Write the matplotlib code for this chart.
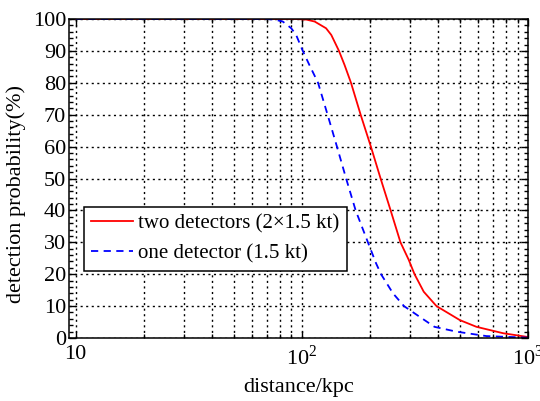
import matplotlib
matplotlib.use("Agg")
import matplotlib.pyplot as plt
from matplotlib.ticker import FixedLocator, FixedFormatter, MultipleLocator, NullFormatter
import numpy as np

plt.rcParams['font.family'] = ['Liberation Serif', 'DejaVu Serif']
plt.rcParams['mathtext.fontset'] = 'custom'
plt.rcParams['mathtext.rm'] = 'Liberation Serif'

# values (distance in kpc, probability in %)
two_dist = [10, 95, 105, 114, 128, 135, 146, 154.5, 165, 182, 202, 223, 247, 273, 297, 315,
            346, 394, 500, 592, 776, 1000]
two_prob = [100, 100, 99.8, 99.2, 97.1, 95, 90, 85.6, 80, 70, 60, 50, 40, 30, 24.5, 20,
            14.5, 10, 5.6, 3.5, 1.5, 0.3]
one_dist = [10, 70, 76, 82.4, 89.8, 94.4, 101, 108, 118, 130, 143, 157, 173, 196, 213, 224,
            253, 283, 331, 386, 482, 655, 1000]
one_prob = [100, 100, 99.8, 99.2, 97.1, 95, 90, 85.6, 80, 70, 60, 50, 40, 30, 23.4, 20,
            14, 10, 6.7, 3.5, 2, 0.6, 0.1]

labels = ['two detectors (2×1.5 kt)', 'one detector (1.5 kt)']
xticks = [10, 100, 1000]
xticklabels = ['10', '10$^{2}$', '10$^{3}$']

fig = plt.figure(figsize=(5.4, 4.01), dpi=100)
ax = fig.add_axes([69/540, 1 - 338/401, (528 - 69)/540, (338 - 19)/401])

ax.plot(two_dist, two_prob, color='red', lw=1.3, label=labels[0])
ax.plot(one_dist, one_prob, color='blue', lw=1.3, ls=(0, (4, 3)), label=labels[1])

ax.set_xscale('log')
ax.set_xlim(9.35, 1000)
ax.set_ylim(0, 100)
ax.xaxis.set_major_locator(FixedLocator(xticks))
ax.xaxis.set_major_formatter(FixedFormatter(xticklabels))
ax.xaxis.set_minor_locator(FixedLocator([k * 10**e for e in (1, 2) for k in range(2, 10)]))
ax.xaxis.set_minor_formatter(NullFormatter())
ax.yaxis.set_major_locator(MultipleLocator(10))
ax.yaxis.set_minor_locator(MultipleLocator(2))

ax.grid(True, which='major', axis='both', color='black', ls=(0, (1.5, 2.5)), lw=1.0)
ax.grid(True, which='minor', axis='x', color='black', ls=(0, (1.5, 2.5)), lw=1.0)

ax.tick_params(which='both', direction='in', top=True, right=True, labelsize=16)
ax.tick_params(which='major', length=5, width=1)
ax.tick_params(which='minor', length=3, width=1)
ax.tick_params(axis='x', pad=5)
ax.tick_params(axis='y', pad=2)
for s in ax.spines.values():
    s.set_linewidth(1.1)

ax.set_xlabel('distance/kpc', fontsize=16, labelpad=6)
ax.set_ylabel('detection probability(%)', fontsize=16)
ax.yaxis.set_label_coords(-0.094, 0.45)

leg = ax.legend(loc='lower left', bbox_to_anchor=(0.033, 0.21), fontsize=15,
                fancybox=False, framealpha=1, edgecolor='black',
                handlelength=2.0, handletextpad=0.25, labelspacing=0.5,
                borderpad=0.35, borderaxespad=0)
leg.get_frame().set_linewidth(1.1)

fig.savefig('out.png', dpi=100)
